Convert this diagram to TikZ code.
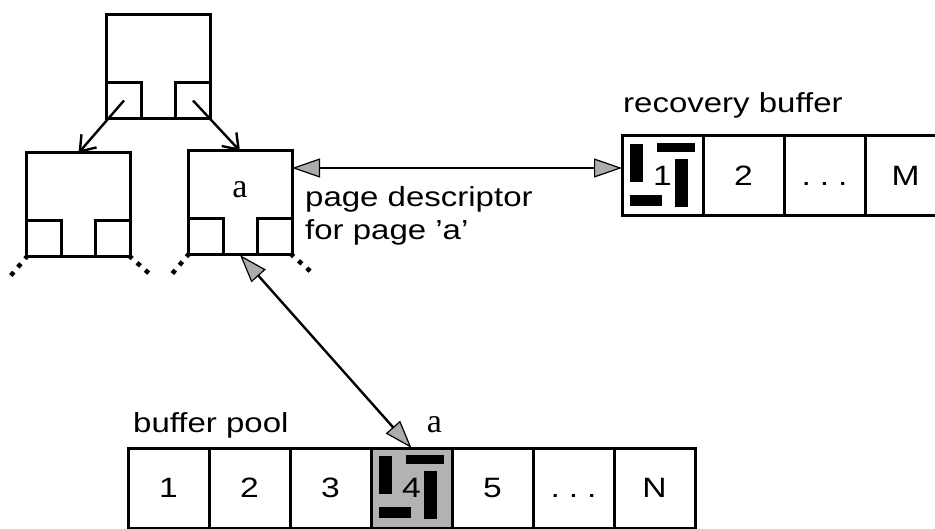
\documentclass[tikz,border=0pt]{standalone}
\usepackage{fontspec}
\setmainfont{Liberation Sans}[FakeStretch=1.2]
\newfontfamily\serifa{Liberation Serif}
\usetikzlibrary{arrows.meta}
\newcommand{\pagebars}[1]{%
  \begin{scope}[shift={(#1.north west)}]
    \fill (8,8) rectangle (21,46);
    \fill (35,7) rectangle (73,16);
    \fill (53,23) rectangle (66,71);
    \fill (8,59) rectangle (40,70);
  \end{scope}}
\newcommand{\gap}{.\hspace{9pt}.\hspace{9pt}.\vphantom{2}}

\begin{document}
\begin{tikzpicture}[x=1pt,y=-1pt]
% Define styles
\tikzstyle{pagebox} = [draw, line width=3pt, minimum width=104pt, minimum height=104pt, inner sep=0pt, outer sep=0pt]
\tikzstyle{slot} = [draw, line width=3pt, minimum width=35pt, minimum height=36pt, inner sep=0pt, outer sep=0pt]
\tikzstyle{cell} = [draw, line width=3pt, minimum width=81pt, minimum height=80pt, inner sep=0pt, outer sep=0pt, font=\fontsize{28}{33}\selectfont]
\tikzstyle{textlabel} = [font=\fontsize{27.5}{33}\selectfont, inner sep=0pt]
\tikzstyle{pagename} = [font=\serifa\fontsize{34}{40}\selectfont, inner sep=0pt]
\tikzstyle{treearrow} = [line width=2.4pt, -{Straight Barb[length=14pt,width=20pt]}]
\tikzstyle{pagelink} = [line width=2.4pt, {Triangle[length=28pt,width=19pt,fill=gray!65,line width=1.2pt]}-{Triangle[length=28pt,width=19pt,fill=gray!65,line width=1.2pt]}]
\tikzstyle{continued} = [line width=4.5pt, line cap=rect, dash pattern=on 0.01pt off 11pt]
\clip (0,0) rectangle (935,529);
% Define nodes
\node[pagebox] (root) at (158.5,66.5) {};
\node[slot, anchor=south west] (root_l) at (root.south west) {};
\node[slot, anchor=south east] (root_r) at (root.south east) {};
\node[pagebox] (left) at (78.5,205) {};
\node[slot, anchor=south west] (left_l) at (left.south west) {};
\node[slot, anchor=south east] (left_r) at (left.south east) {};
\node[pagebox] (page_a) at (240,203) {};
\node[slot, anchor=south west] (page_a_l) at (page_a.south west) {};
\node[slot, anchor=south east] (page_a_r) at (page_a.south east) {};
\node[pagename] (page_a_name) at ([yshift=13pt]page_a.center) {a};
\node[textlabel, anchor=base west, align=left] (descr) at ([xshift=13pt,yshift=-37pt]page_a.east) {page descriptor\\for page 'a'};
\node[cell] (rb_1) at (662.5,176) {1};
\node[cell] (rb_2) at (743.5,176) {2};
\node[cell] (rb_3) at (824.5,176) {\gap};
\node[cell] (rb_4) at (905.5,176) {M};
\node[textlabel, anchor=base west] (rb_title) at ([xshift=1pt,yshift=23pt]rb_1.north west) {recovery buffer};
\node[cell] (bp_1) at (168.5,488) {1};
\node[cell] (bp_2) at (249.5,488) {2};
\node[cell] (bp_3) at (330.5,488) {3};
\node[cell, fill=black!30] (bp_4) at (411.5,488) {4};
\node[cell] (bp_5) at (492.5,488) {5};
\node[cell] (bp_6) at (573.5,488) {\gap};
\node[cell] (bp_7) at (654.5,488) {N};
\node[textlabel, anchor=base west] (bp_title) at ([xshift=5pt,yshift=16pt]bp_1.north west) {buffer pool};
\node[pagename, anchor=base] (bp_name) at ([xshift=23pt,yshift=16pt]bp_4.north) {a};
\pagebars{rb_1}
\pagebars{bp_4}
% Connect the nodes
\draw[treearrow] (root_l.center) -- (left.north);
\draw[treearrow] (root_r.center) -- (page_a.north);
\draw[pagelink] ([yshift=35pt]page_a.east) -- ([yshift=8pt]rb_1.west);
\draw[pagelink] (page_a.south) -- (bp_4.north);
\draw[continued] (left.south west) -- ++(-16,19);
\draw[continued] (left.south east) -- ++(18,16);
\draw[continued] (page_a.south west) -- ++(-16,19);
\draw[continued] (page_a.south east) -- ++(18,16);
\end{tikzpicture}
\end{document}
